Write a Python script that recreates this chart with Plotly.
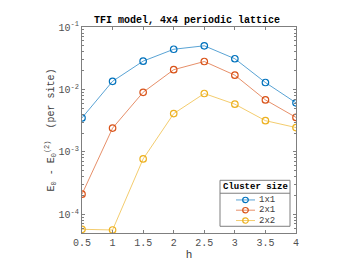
import plotly.graph_objects as go

h = [0.5, 1.0, 1.5, 2.0, 2.5, 3.0, 3.5, 4.0]
e_1x1 = [3.5e-3, 0.0135, 0.0284, 0.044, 0.050, 0.031, 0.0129, 0.0061]
e_2x1 = [2.1e-4, 2.4e-3, 9.0e-3, 0.0207, 0.028, 0.0169, 0.0068, 3.56e-3]
e_2x2 = [5.75e-5, 5.6e-5, 7.7e-4, 4.1e-3, 8.6e-3, 5.8e-3, 3.16e-3, 2.45e-3]
names = ["1x1", "2x1", "2x2"]
colors = ["#0072BD", "#D95319", "#EDB120"]
line_colors = ["rgba(0,114,189,0.65)", "rgba(217,83,25,0.65)", "rgba(237,177,32,0.65)"]
x_ticks = [0.5, 1, 1.5, 2, 2.5, 3, 3.5, 4]
x_ticklabels = ["0.5", "1", "1.5", "2", "2.5", "3", "3.5", "4"]
y_ticks = [1e-4, 1e-3, 1e-2, 1e-1]
y_ticklabels = ["10<sup>-4</sup>", "10<sup>-3</sup>", "10<sup>-2</sup>", "10<sup>-1</sup>"]
legend_title = "Cluster size"
chart_title = "TFI model, 4x4 periodic lattice"

FONT = "Liberation Mono, DejaVu Sans Mono, monospace"
W, H = 350, 263
L, R, T, B = 74, 62, 19, 29
PW, PH = W - L - R, H - T - B


def px(x):
    return (x - L) / PW


def py(y):
    return (H - B - y) / PH


fig = go.Figure()
for ys, nm, c, lc in zip([e_1x1, e_2x1, e_2x2], names, colors, line_colors):
    fig.add_trace(go.Scatter(
        x=h, y=ys, name=nm, mode="lines+markers", showlegend=False,
        line=dict(color=lc, width=1),
        marker=dict(symbol="circle-open", size=6.5, color=c, line=dict(width=1.2, color=c)),
    ))

axis_common = dict(
    showline=True, linecolor="#7f7f7f", linewidth=1, mirror="allticks",
    ticks="inside", ticklen=3, tickcolor="#7f7f7f", showgrid=False, zeroline=False,
    tickfont=dict(family=FONT, size=10, color="#505050"),
)
fig.update_xaxes(
    range=[0.5, 4], tickvals=x_ticks, ticktext=x_ticklabels,
    title=dict(text="h", font=dict(family=FONT, size=11, color="#404040"), standoff=2),
    **axis_common,
)
fig.update_yaxes(
    type="log", range=[-4.3, -1], tickvals=y_ticks, ticktext=y_ticklabels,
    minor=dict(ticks="inside", ticklen=2, tickcolor="#7f7f7f",
               tickvals=[k * 10 ** e for e in (-5, -4, -3, -2) for k in range(2, 10)]),
    title=dict(text="E<sub>0</sub> - E<sub>0</sub><sup>(2)</sup>  (per site)",
               font=dict(family=FONT, size=10, color="#404040"), standoff=2),
    **axis_common,
)

# manual legend (compact, MATLAB-like)
shapes = [
    dict(type="rect", xref="paper", yref="paper", x0=px(212), x1=px(282), y0=py(227), y1=py(179),
         line=dict(color="#7f7f7f", width=1), fillcolor="white", layer="above"),
    dict(type="line", xref="paper", yref="paper", x0=px(212), x1=px(282), y0=py(192.5), y1=py(192.5),
         line=dict(color="#7f7f7f", width=1), layer="above"),
]
annotations = [
    dict(text="<b>" + chart_title + "</b>", xref="paper", yref="paper", x=px(179), y=py(12),
         xanchor="center", yanchor="middle", showarrow=False,
         font=dict(family=FONT, size=10, color="black")),
    dict(text="<b>" + legend_title + "</b>", xref="paper", yref="paper", x=px(247), y=py(185.8),
         xanchor="center", yanchor="middle", showarrow=False,
         font=dict(family=FONT, size=9, color="black")),
]
item_y = [199.5, 210.2, 221.0]
for nm, c, lc, yy in zip(names, colors, line_colors, item_y):
    shapes.append(dict(type="line", xref="paper", yref="paper", x0=px(228), x1=px(247),
                       y0=py(yy), y1=py(yy), line=dict(color=lc, width=1), layer="above"))
    shapes.append(dict(type="circle", xref="paper", yref="paper", x0=px(234.7), x1=px(240.3),
                       y0=py(yy + 2.8), y1=py(yy - 2.8), line=dict(color=c, width=1.2), layer="above"))
    annotations.append(dict(text=nm, xref="paper", yref="paper", x=px(249), y=py(yy),
                            xanchor="left", yanchor="middle", showarrow=False,
                            font=dict(family=FONT, size=9, color="#404040")))

fig.update_layout(
    width=W, height=H,
    margin=dict(l=L, r=R, t=T, b=B),
    paper_bgcolor="white", plot_bgcolor="white",
    showlegend=False,
    shapes=shapes,
    annotations=annotations,
)
fig.write_html("out.html")
